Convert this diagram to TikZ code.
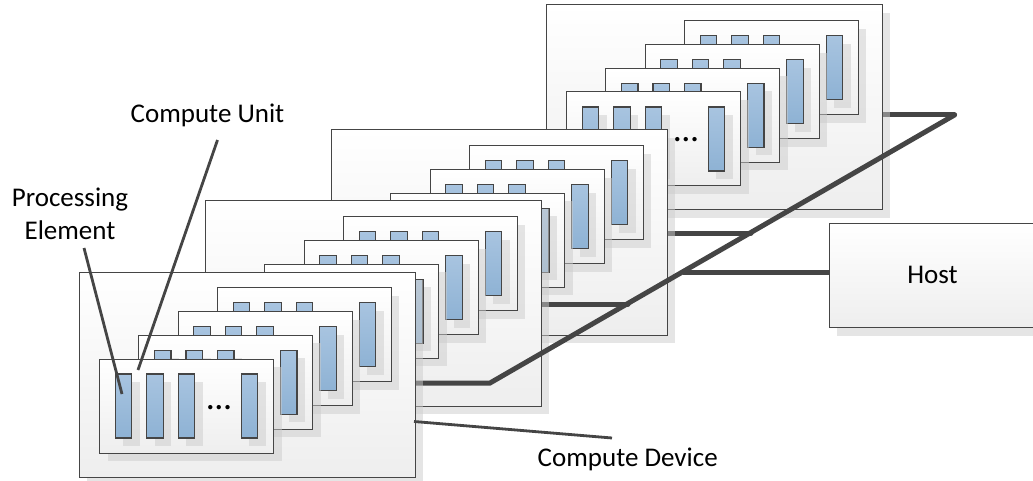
\documentclass[tikz,border=0pt]{standalone}
\usepackage{fontspec}
\setmainfont{Carlito}
\usetikzlibrary{shadows}
\definecolor{edgegray}{HTML}{454545}
\definecolor{boxbottom}{HTML}{EEEEEE}
\definecolor{pettop}{HTML}{A8C4E0}
\definecolor{pebottom}{HTML}{8EB2D4}
\definecolor{shadowgray}{gray}{0.8}
\tikzset{
  softshadow/.style={general shadow={shadow xshift=8pt,shadow yshift=-8pt,fill=shadowgray,opacity=.5}},
  panel/.style={draw=edgegray,line width=1pt,top color=white,bottom color=boxbottom,softshadow,
    anchor=north west,inner sep=0pt,outer sep=0pt,rectangle},
  device/.style={panel,minimum width=336pt,minimum height=205pt},
  unit/.style={panel,minimum width=174pt,minimum height=94pt},
  pe/.style={panel,draw=edgegray,line width=1.1pt,top color=pettop,bottom color=pebottom,minimum width=16.5pt,minimum height=64pt},
  hostbox/.style={panel,minimum width=206pt,minimum height=104pt},
  bus/.style={draw=edgegray,line width=5pt,line join=miter},
  callout/.style={draw=edgegray,line width=2.8pt},
  label/.style={font=\fontsize{27}{33}\selectfont,text=black,inner sep=0pt,outer sep=0pt},
  dotstext/.style={font=\fontsize{36}{38}\selectfont,text=black,inner sep=0pt,outer sep=0pt,anchor=base},
}
\begin{document}
\begin{tikzpicture}[x=1pt,y=-1pt]
\useasboundingbox (0,0) rectangle (1033,481);
\clip (0,0) rectangle (1033,481);
% bus points
\coordinate (tap1) at (490,383);
\coordinate (tap2) at (628,304);
\coordinate (tap3) at (751,233);
\coordinate (tap4) at (954.5,115);
\coordinate (tapc) at (683,272);
\coordinate (port1) at (415,383);
\coordinate (port2) at (541,304);
\coordinate (port3) at (667,233);
\coordinate (port4) at (882,115);
\coordinate (hostport) at (829,272);
\draw[bus] (hostport) -- (tapc);
\node[hostbox] (host) at (829,223.5) {};
\node[label,anchor=base] (hostlabel) at (932.5,283) {Host};
% devices, back to front; each bus stub lies under its own device's shadow
\foreach \d/\dx/\dy in {4/546/5,3/331/130,2/205/201,1/79/272}{
  \ifnum\d=1
    \draw[bus,line cap=round] (port1) -- (tap1) -- (tap4);
  \else
    \draw[bus,line cap=round] (port\d) -- (tap\d);
  \fi
  \node[device] (d\d) at (\dx,\dy) {};
  \foreach \c in {4,3,2,1}{
    \pgfmathsetmacro{\cx}{\dx+20.5+(\c-1)*39.3}
    \pgfmathsetmacro{\cy}{\dy+87-(\c-1)*23.7}
    \node[unit] (d\d c\c) at (\cx,\cy) {};
    \foreach \p/\k in {1/0,2/1,3/2,4/4}{
      \pgfmathsetmacro{\px}{\cx+15.7+\k*31.5}
      \pgfmathsetmacro{\py}{\cy+15}
      \node[pe] (d\d c\c p\p) at (\px,\py) {};
    }
  }
  \ifnum\d=1 \node[dotstext] (d1dots) at (\dx+140,\dy+137) {.\kern-.4pt.\kern-.4pt.};\fi
  \ifnum\d=4 \node[dotstext] (d4dots) at (\dx+140,\dy+137) {.\kern-.4pt.\kern-.4pt.};\fi
}
% labels
\node[label,anchor=base] (culabel) at (207.5,123) {Compute Unit};
\node[label,align=center,anchor=center] (pelabel) at (70,214) {Processing\\Element};
\node[label,anchor=base west] (cdlabel) at (537.7,466) {Compute Device};
% callouts
\coordinate (cutop) at (217.5,140);
\coordinate (cuend) at (138,370);
\coordinate (petop) at (84,248);
\coordinate (peend) at (122,394);
\coordinate (cdstart) at (414,421.5);
\coordinate (cdend) at (612,438);
\draw[callout] (cutop) -- (cuend);
\draw[callout] (petop) -- (peend);
\draw[callout] (cdstart) -- (cdend);
\end{tikzpicture}
\end{document}
